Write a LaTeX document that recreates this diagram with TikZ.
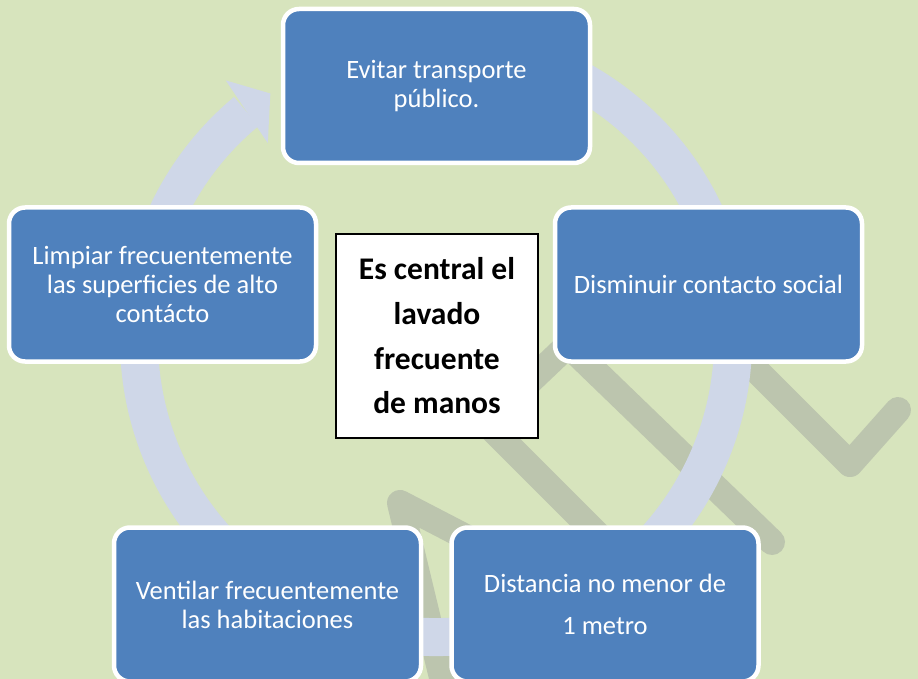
\documentclass[tikz,border=0pt]{standalone}
\usepackage{fontspec}
\setmainfont{Carlito}

\definecolor{bggreen}{HTML}{D7E4BD}
\definecolor{ringblue}{HTML}{CFD7E8}
\definecolor{inkgray}{HTML}{BCC5AE}
\definecolor{boxblue}{HTML}{4F81BD}

\begin{document}
\begin{tikzpicture}[x=1pt,y=-1pt,
      bluebox/.style={rectangle, rounded corners=16pt, draw=white, fill=boxblue,
        line width=4.5pt, minimum width=307pt, minimum height=154pt, inner sep=0pt,
        text=white, align=center, font=\fontsize{26.5}{29}\selectfont},
      whitebox/.style={rectangle, draw=black, fill=white, line width=1.2pt,
        minimum width=202pt, minimum height=204pt, inner sep=0pt,
        align=center, font=\fontsize{31.5}{44.7}\selectfont\bfseries},
      inkline/.style={draw=inkgray, line width=26pt, line cap=round, line join=round}]

    \useasboundingbox (0,0) rectangle (918,679);
    \fill[bggreen] (0,0) rectangle (918,679);

    \draw[inkline] (445,690) -- (400,503) -- (560,586);
    \draw[inkline] (620,557) -- (486,423) -- (568,345) -- (772,542);
    \draw[inkline] (716,330) -- (850,464) -- (898,410);

    \begin{scope}[shift={(436,340)}]
      \draw[ringblue, line width=38pt] (-110:297) arc[start angle=-110, end angle=230.3, radius=297];
      \fill[ringblue] (231:334) -- (236.1:297) -- (229.5:259) -- cycle;
    \end{scope}

    \node[bluebox] (b1) at (436.5,86)  {Evitar transporte\\público.};
    \node[bluebox] (b2) at (708.5,284.5) {Disminuir contacto social};
    \node[bluebox] (b3) at (605,604.5) [font=\fontsize{26.5}{42}\selectfont] {Distancia no menor de\\1 metro};
    \node[bluebox] (b4) at (267.5,604.5) {Ventilar frecuentemente\\las habitaciones};
    \node[bluebox] (b5) at (162.5,284.5) {Limpiar frecuentemente\\las superficies de alto\\contácto};

    \node[whitebox] (c1) at (437,336) {Es central el\\lavado\\frecuente\\de manos};

  \end{tikzpicture}
\end{document}
